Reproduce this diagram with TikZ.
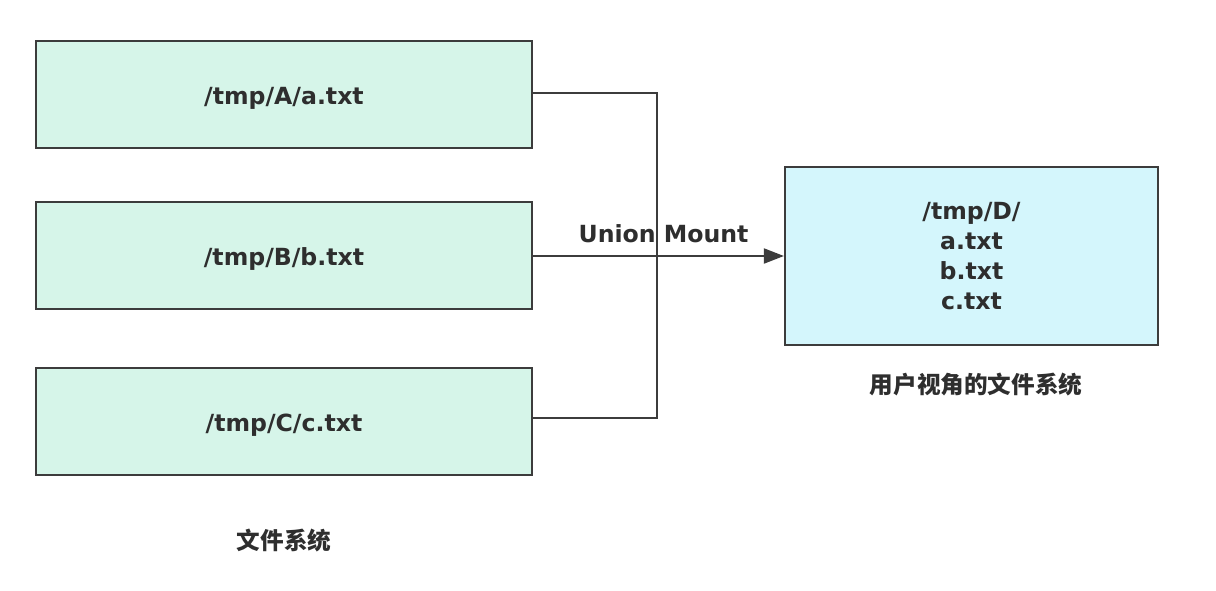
\documentclass[tikz,border=0pt]{standalone}
\usepackage{fontspec}
\setmainfont{DejaVu Sans}
\newfontfamily\cjk{Noto Sans CJK SC}
\usetikzlibrary{arrows.meta}
\definecolor{boxgreen}{HTML}{D6F5E9}
\definecolor{boxblue}{HTML}{D4F6FC}
\definecolor{edge}{HTML}{3C3C3C}
\definecolor{txt}{HTML}{2E2E2E}
\begin{document}
\begin{tikzpicture}[x=0.5pt,y=-0.5pt,
  srcbox/.style={draw=edge, line width=1.1pt, fill=boxgreen, minimum width=248pt, minimum height=53.5pt, inner sep=0pt, text height=9.6pt, text depth=0pt, font=\bfseries\fontsize{11.8}{13}\selectfont, text=txt},
  dstbox/.style={draw=edge, line width=1.1pt, fill=boxblue, minimum width=186.5pt, minimum height=89pt, inner sep=0pt, font=\bfseries\fontsize{11.8}{15}\selectfont, text=txt, align=center},
  conn/.style={draw=edge, line width=1pt},
  captxt/.style={font=\cjk\bfseries\fontsize{11.8}{13}\selectfont, text=txt}]
\useasboundingbox (0,0) rectangle (1216,590);
\fill[white] (0,0) rectangle (1216,590);
\node[srcbox, text height=10.4pt] (A) at (284,94.5) {/tmp/A/a.txt};
\node[srcbox] (B) at (284,255.5) {/tmp/B/b.txt};
\node[srcbox] (C) at (284,421.5) {/tmp/C/c.txt};
\node[dstbox] (D) at (971.5,256) {/tmp/D/\\a.txt\\b.txt\\c.txt};
\coordinate (J1) at (657,93);
\coordinate (J2) at (657,418);
\draw[conn] (A.east |- J1) -- (J1) -- (J2) -- (C.east |- J2);
\draw[conn, -{Triangle[length=10pt,width=7.5pt]}] (B.east |- 0,256) -- (D.west |- 0,256)
  node[pos=0.52, above=3pt, font=\bfseries\fontsize{11.8}{13}\selectfont, text=txt] (L) {Union Mount};
\node[captxt] (capL) at (284,540) {文件系统};
\node[captxt] (capR) at (976,385) {用户视角的文件系统};
\end{tikzpicture}
\end{document}
